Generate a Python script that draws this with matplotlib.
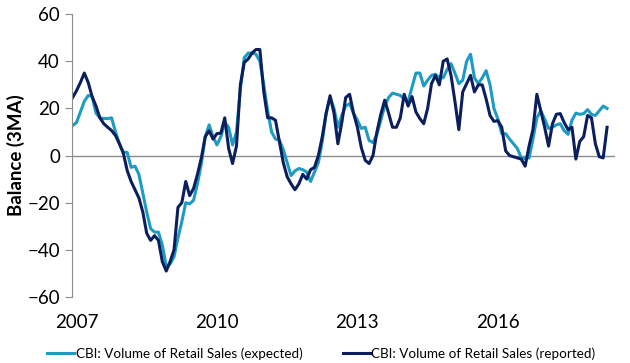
import numpy as np
import matplotlib.pyplot as plt

# monthly, Jan 2007 onwards
expected = [12.7, 14, 18.5, 23, 25.5, 25, 18, 16, 15.7, 15.7, 16, 10,
            5, 1.5, 1.3, -5, -4.5, -8, -16, -24, -31, -32.5, -32.5, -38,
            -47, -46, -43, -35, -28, -20, -20.5, -19, -12, -3.4, 8, 13,
            8, 4.5, 8, 14, 12, 4.5, 10, 28, 41.5, 43.5, 43.5, 43,
            40, 30, 19, 10, 7, 6.5, 2.5, -3, -8.5, -6.5, -5.5, -6,
            -7, -11, -7, -3, 6, 18, 24.6, 20, 12, 17, 21, 22,
            18, 15, 11.5, 12, 6.4, 5.5, 9, 15, 21, 24.6, 26.5, 26,
            25.5, 24, 23, 29, 35, 35, 29.5, 32, 34, 34.5, 33, 33,
            36.5, 39, 35, 30.5, 32, 40, 43, 33, 30.5, 33, 36, 30,
            20, 15.5, 9.3, 9.3, 7, 5, 3, -1, -1.3, -1, 7, 16,
            19, 15.5, 11.5, 12, 13, 13.5, 10.6, 9, 15, 18, 17.5, 17.8,
            19.5, 17.5, 17, 19, 21, 20]
reported = [24.6, 27.5, 31, 35, 31, 25, 21, 16, 13.5, 12, 10.6, 8.5,
            5, 1, -6.4, -11, -14.5, -18, -24, -33, -36, -34, -36, -45,
            -49, -45, -40, -22, -20, -11, -17, -14, -8, -1, 8, 10.5,
            7, 9.3, 9.5, 16, 3, -3.4, 4, 30, 39.5, 41, 43.5, 45,
            45, 27, 16, 16, 15, 6, -3, -9, -12, -14.5, -12, -8,
            -10, -6, -5, 0, 8, 18, 25.4, 18, 5, 14, 24.6, 26,
            18, 12, 3.4, -2, -3.4, 0, 10, 17.5, 23.5, 18, 12, 12,
            16, 26, 21, 25, 18.5, 15.7, 13.5, 20, 30.5, 34, 30, 40,
            41, 34, 23, 11, 27, 30.5, 34, 27, 30, 30, 24, 17,
            14.5, 14.8, 12, 2, 0, -0.5, -1, -1.5, -4.5, 4, 11, 26,
            19, 12, 4, 13.5, 17.5, 17.8, 14, 11, 12, -1.5, 6, 8,
            17, 16, 5, -0.5, -1, 12]
year_labels = ['2007', '2010', '2013', '2016']

months = np.arange(len(expected))

plt.rcParams['font.family'] = ['Lato', 'DejaVu Sans']
fig = plt.figure(figsize=(6.3, 3.63), dpi=100)
ax = fig.add_axes([0.114, 0.182, 0.862, 0.779])

ax.plot(months, expected, color='#1d9bc3', lw=2.2,
        label='CBI: Volume of Retail Sales (expected)')
ax.plot(months, reported, color='#0b1f5e', lw=2.2,
        label='CBI: Volume of Retail Sales (reported)')
ax.axhline(0, color='#8c8c8c', lw=1, zorder=0)

ax.set_ylim(-60, 60)
ax.set_yticks(range(-60, 61, 20))
ax.set_xlim(-0.2, len(expected) + 1)
ax.set_xticks([1, 37, 73, 109])
ax.set_xticklabels(year_labels)
ax.tick_params(axis='x', length=0, pad=12, labelsize=13.5)
ax.tick_params(axis='y', length=5, color='#8c8c8c', labelsize=13.5)
for s in ['top', 'right', 'bottom']:
    ax.spines[s].set_visible(False)
ax.spines['left'].set_color('#8c8c8c')
ax.set_ylabel('Balance (3MA)', fontweight='bold', fontsize=13.5, labelpad=2)

fig.legend(loc='lower center', bbox_to_anchor=(0.51, -0.025), ncol=2,
           frameon=False, fontsize=9.7, handlelength=2.0, handletextpad=0.1,
           columnspacing=3.0)

fig.savefig('out.png', dpi=100)
